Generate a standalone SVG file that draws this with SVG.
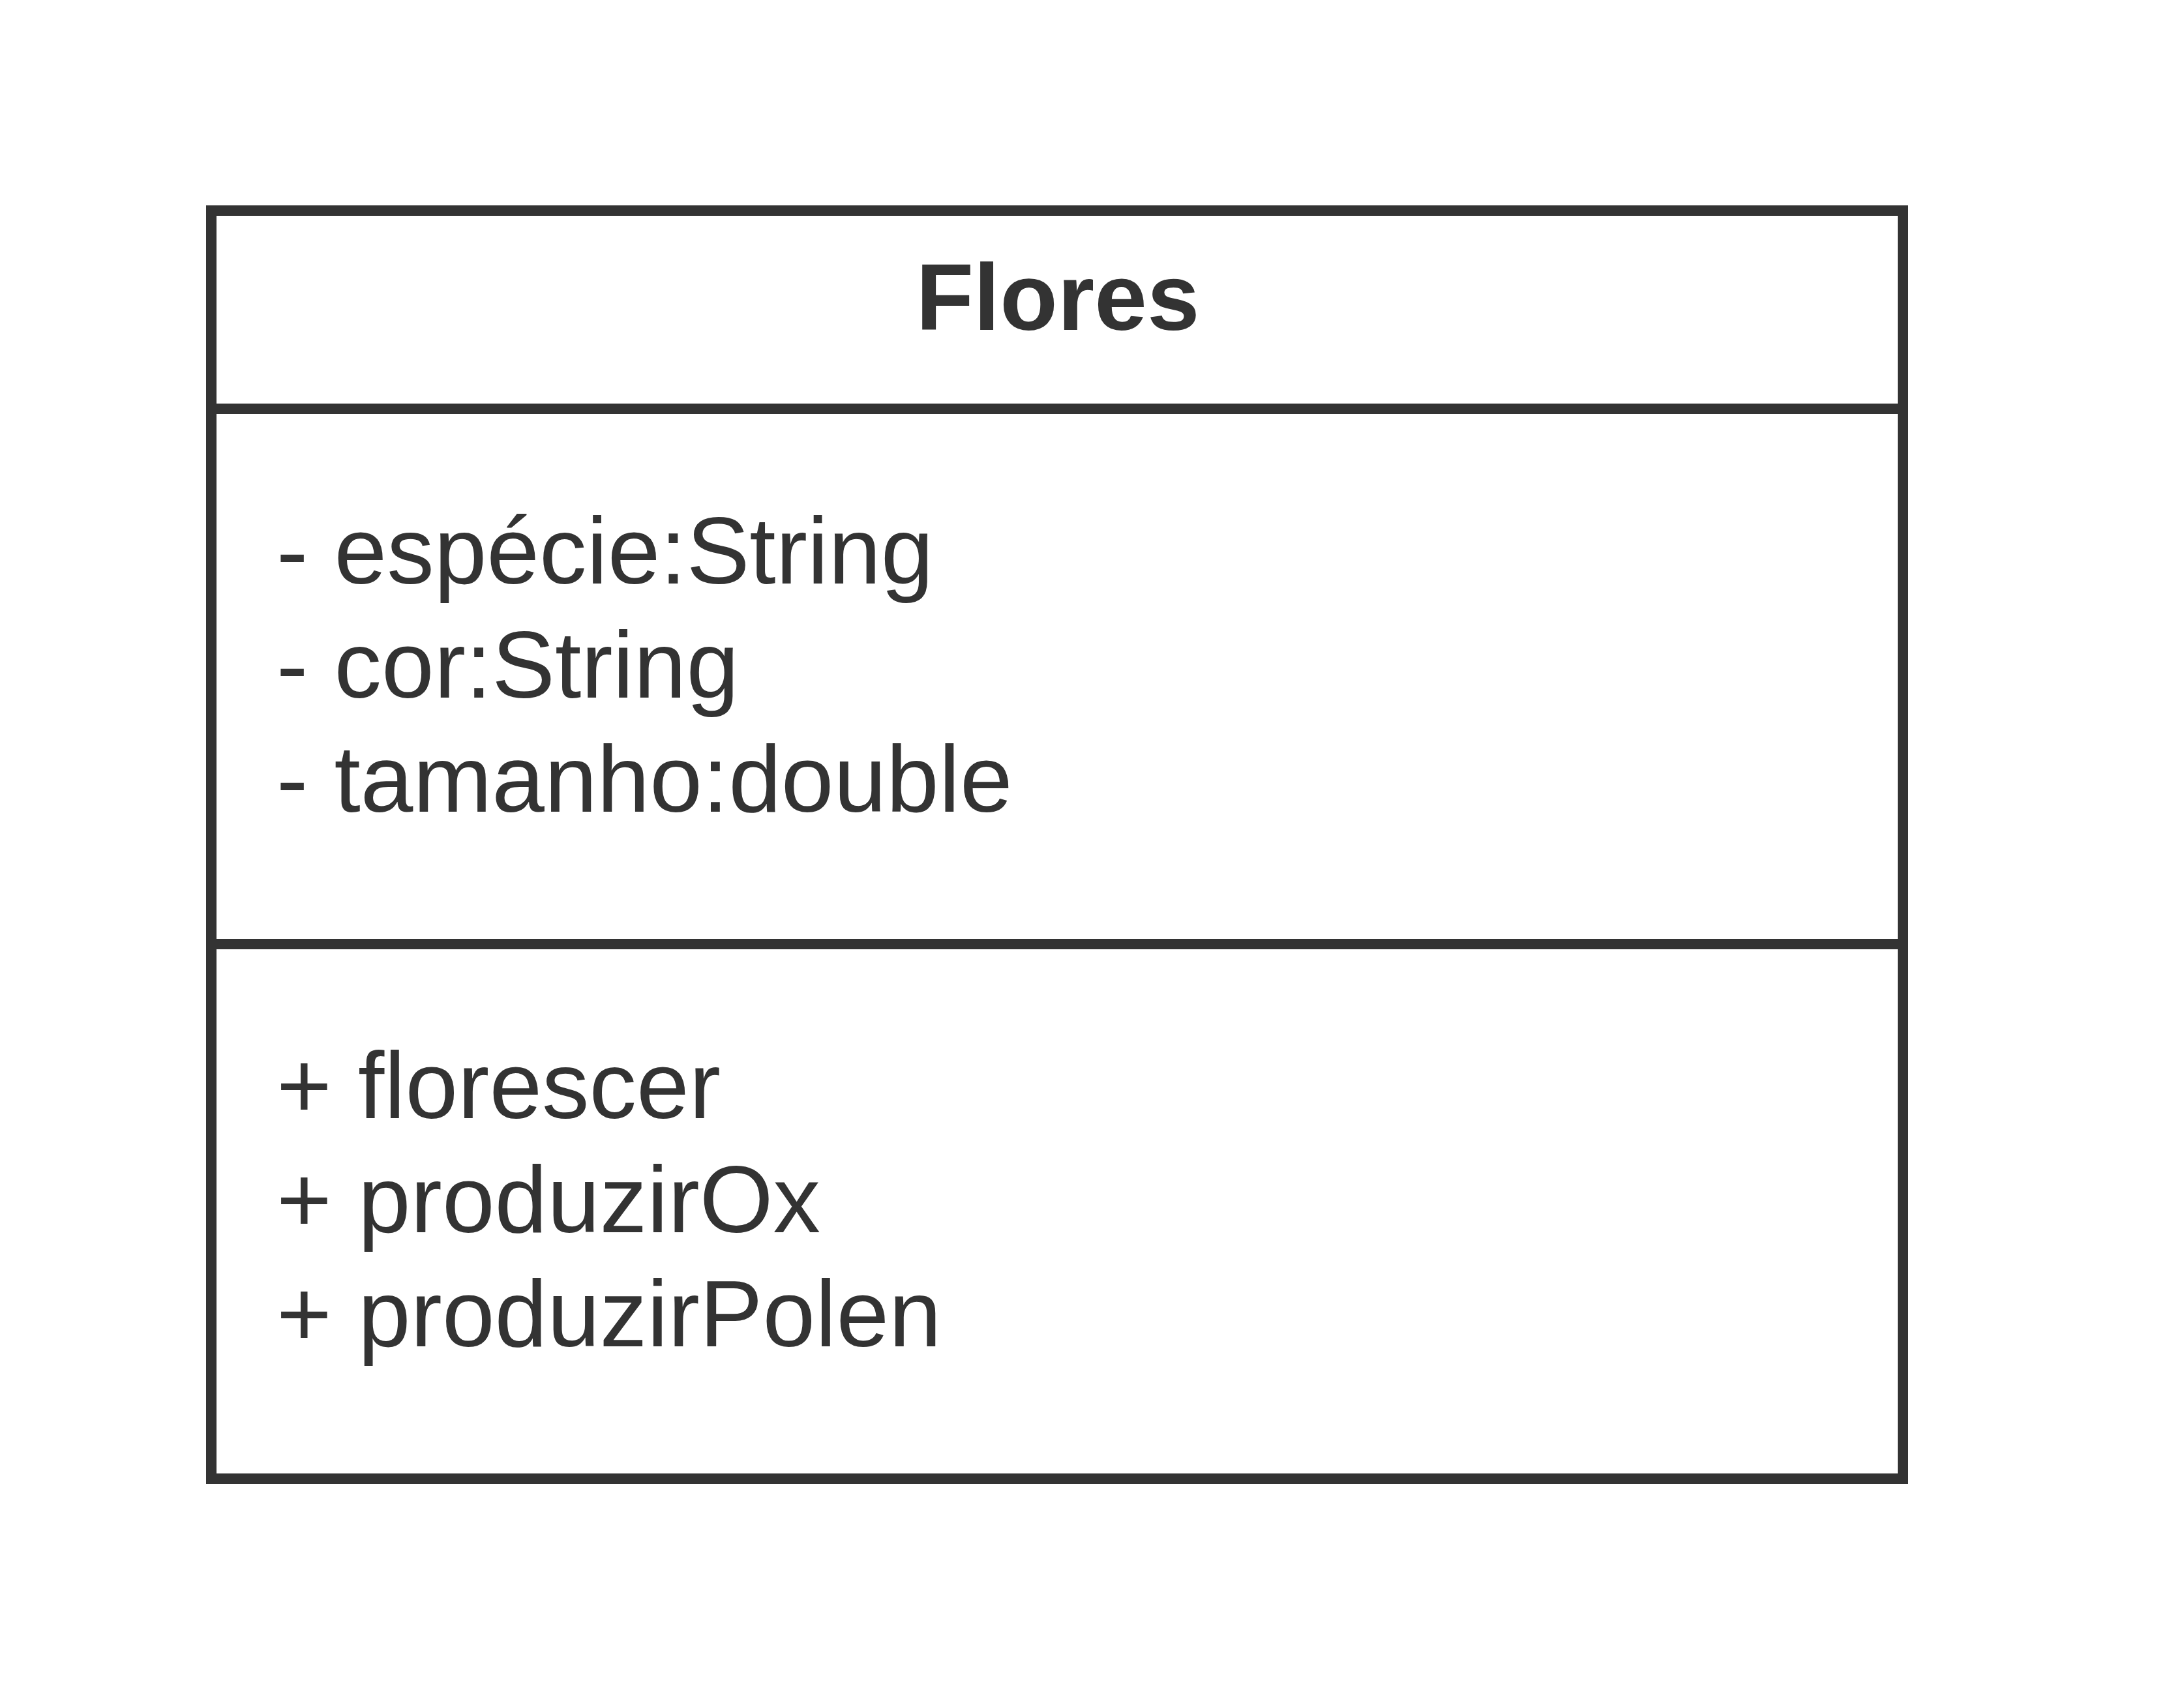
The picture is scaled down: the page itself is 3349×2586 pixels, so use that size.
<svg xmlns="http://www.w3.org/2000/svg" width="3349" height="2586" viewBox="0 0 3349 2586">
<style>
.box{fill:#ffffff;stroke:#333333;stroke-width:16}
.div{stroke:#333333;stroke-width:16}
.title{font-family:"Liberation Sans",Arial,sans-serif;font-weight:bold;font-size:145px;fill:#333333}
.item{font-family:"Liberation Sans",Arial,sans-serif;font-size:145px;fill:#333333}
</style>
<rect width="3349" height="2586" fill="#ffffff"/>
<g id="class-Flores">
<rect class="box" x="324" y="323" width="2594" height="1945"/>
<line class="div" x1="324" y1="627" x2="2918" y2="627"/>
<line class="div" x1="324" y1="1448" x2="2918" y2="1448"/>
<text class="title" x="1622" y="506" text-anchor="middle">Flores</text>
<text class="item" x="424" y="895">- espécie:String</text>
<text class="item" x="424" y="1070">- cor:String</text>
<text class="item" x="424" y="1245">- tamanho:double</text>
<text class="item" x="424" y="1715">+ florescer</text>
<text class="item" x="424" y="1890">+ produzirOx</text>
<text class="item" x="424" y="2065">+ produzirPolen</text>
</g>
<g id="connectors"></g>
</svg>
